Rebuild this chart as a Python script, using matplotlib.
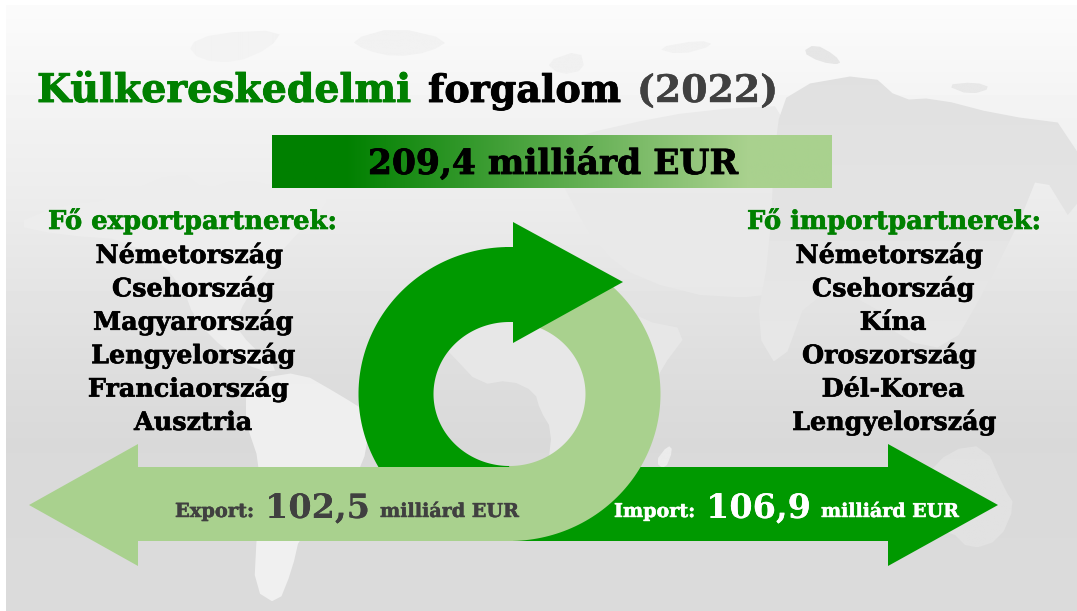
import numpy as np
import matplotlib
matplotlib.use("Agg")
import matplotlib.pyplot as plt
import matplotlib.patheffects as pe
from matplotlib.patches import Polygon
from matplotlib.colors import LinearSegmentedColormap

title_green = "Külkereskedelmi"
title_black = "forgalom"
title_year = "(2022)"
total_value = 209.4
export_value = 102.5
import_value = 106.9
unit = "milliárd EUR"
export_head = "Fő exportpartnerek:"
import_head = "Fő importpartnerek:"
export_partners = ["Németország", "Csehország", "Magyarország", "Lengyelország", "Franciaország", "Ausztria"]
import_partners = ["Németország", "Csehország", "Kína", "Oroszország", "Dél-Korea", "Lengyelország"]
export_centers = [189, 193, 193, 193, 188, 193]
import_centers = [889, 893, 893, 889, 893, 894]

GREEN = "#009900"
LIGHT = "#a9d18e"
TITLE = "#008000"
GREY = "#404040"
FONT = "DejaVu Serif"

fig = plt.figure(figsize=(10.77, 6.11), dpi=100)
ax = fig.add_axes([0, 0, 1, 1])
W, H = 1077, 611


def hu(v):
    return f"{v:.1f}".replace(".", ",")


def smooth(pts, n=1):
    # corner cutting so the coastlines are not so angular
    p = np.array(pts, float)
    for _ in range(n):
        q = np.roll(p, -1, axis=0)
        p = np.c_[0.75 * p + 0.25 * q, 0.25 * p + 0.75 * q].reshape(-1, 2)
    return p


def land(pts, top, bottom):
    # map shapes: grey gradient clipped to a rough coastline
    pts = smooth(pts)
    x0, x1 = pts[:, 0].min(), pts[:, 0].max()
    y0, y1 = pts[:, 1].min(), pts[:, 1].max()
    g = np.linspace(top, bottom, 64).reshape(-1, 1)
    im = ax.imshow(g, extent=[x0, x1, y1, y0], cmap="gray", vmin=0, vmax=255, aspect="auto", zorder=1)
    im.set_clip_path(Polygon(pts, closed=True, transform=ax.transData))


def bold(t, fs, k=0.024):
    # the slide font is heavier than DejaVu Serif Bold
    t.set_path_effects([pe.withStroke(linewidth=fs * k, foreground=t.get_color())])


def put(s, x0, x1, base, color, k=0.024):
    # fit the font so the string fills the same width as in the slide
    t = ax.text(x0, base, s, color=color, family=FONT, weight="bold", ha="left", va="baseline", fontsize=20, zorder=10)
    r = fig.canvas.get_renderer()
    fs = 20 * (x1 - x0) / t.get_window_extent(r).width
    t.set_fontsize(fs)
    bold(t, fs, k)
    return t


# background
ax.imshow(np.full((2, 2), 255), extent=[0, W, H, 0], cmap="gray", vmin=0, vmax=255, aspect="auto", zorder=0)
ys = np.array([5, 60, 130, 200, 280, 360, 440, 611])
gs = np.array([251, 247, 241, 236, 229, 222, 217, 219])
bg = np.interp(np.arange(5, 611), ys, gs).reshape(-1, 1)
ax.imshow(bg, extent=[6, W, H, 5], cmap="gray", vmin=0, vmax=255, aspect="auto", zorder=0.5)

# world map, very rough
land([(187, 45), (215, 33), (283, 30), (270, 48), (235, 63), (200, 60)], 243, 243)
land([(350, 40), (395, 27), (450, 40), (430, 52), (395, 57), (365, 50)], 242, 242)
land([(545, 62), (580, 50), (585, 70), (560, 75)], 241, 241)
land([(655, 48), (700, 40), (715, 45), (680, 55)], 242, 242)
land([(802, 52), (815, 44), (835, 55), (842, 65), (820, 62)], 230, 230)
land([(945, 85), (975, 82), (992, 88), (970, 95)], 232, 232)
# north america
land([(12, 225), (60, 205), (110, 200), (180, 170), (205, 190), (240, 178), (290, 190), (330, 180), (325, 210), (290, 240),
      (265, 275), (245, 300), (235, 325), (250, 345), (280, 370), (260, 372), (225, 350), (195, 320), (180, 280), (130, 240), (60, 235)],
     237, 236)
# south america
land([(240, 405), (262, 378), (300, 372), (340, 395), (372, 415), (362, 470), (335, 505), (300, 535), (292, 570), (278, 605),
      (254, 590), (257, 530), (262, 470)], 238, 240)
# africa, gulf of guinea shows up darker inside the ring
land([(470, 290), (540, 270), (600, 290), (640, 320), (690, 330), (660, 370), (630, 430), (600, 510), (565, 540), (548, 466), (552, 430),
      (540, 410), (535, 392), (510, 380), (480, 385), (450, 353), (432, 335)], 231, 231)
land([(655, 462), (668, 445), (673, 450), (665, 470)], 236, 236)
# eurasia
land([(545, 145), (620, 125), (700, 110), (800, 105), (810, 290), (720, 300), (640, 280), (600, 250), (570, 200)], 234, 232)
land([(775, 130), (790, 87), (870, 73), (900, 100), (935, 98), (1000, 115), (1077, 125), (1077, 230),
      (1040, 170), (1020, 220), (1010, 240), (985, 290), (950, 350), (900, 340), (870, 300), (810, 290), (780, 372), (755, 330),
      (770, 250)], 224, 231)
# australia
land([(922, 480), (950, 450), (985, 445), (1005, 490), (1015, 505), (1000, 540), (970, 550), (950, 530), (925, 535)], 225, 226)

# top banner with gradient
stops = np.linspace(0, 1, 512)
vals = np.clip((stops - 0.13) / (0.85 - 0.13), 0, 1).reshape(1, -1)
ax.imshow(vals, extent=[272, 832, 188, 135], cmap=LinearSegmentedColormap.from_list("g2", [TITLE, LIGHT], N=512),
          vmin=0, vmax=1, aspect="auto", zorder=3)

# ring
cx, cy = 509.5, 394
rx_o, ry_o, rx_i, ry_i = 151, 147, 76, 72


def ring(a0, a1):
    t = np.radians(np.linspace(a0, a1, 120))
    outer = np.c_[cx + rx_o * np.cos(t), cy + ry_o * np.sin(t)]
    inner = np.c_[cx + rx_i * np.cos(t), cy + ry_i * np.sin(t)][::-1]
    return np.r_[outer, inner]


# dark half of the ring and import arrow go under the light shapes
ax.add_patch(Polygon(ring(90, 270), fc=GREEN, ec="none", zorder=4))
ax.add_patch(Polygon([(513, 467), (888, 467), (888, 444), (998, 505), (888, 566), (888, 541), (513, 541)], fc=GREEN, ec="none", zorder=4))
ax.add_patch(Polygon(ring(-90, 90), fc=LIGHT, ec="none", zorder=5))
ax.add_patch(Polygon([(513, 467), (138, 467), (138, 444), (29, 505), (138, 566), (138, 541), (513, 541)], fc=LIGHT, ec="none", zorder=5))
# arrow head sits on top
ax.add_patch(Polygon([(505, 247), (513, 247), (513, 222), (623, 282), (513, 343), (513, 322), (505, 322)], fc=GREEN, ec="none", zorder=6))

# texts
put(title_green, 37, 412, 102, TITLE)
put(title_black, 428, 621, 102, "#000000")
put(title_year, 637, 778, 102, GREY, k=0.012)
put(f"{hu(total_value)} {unit}", 368, 738, 174, "#000000")

put(export_head, 48, 337, 229, TITLE)
put(import_head, 747, 1041, 229, TITLE)

for i, name in enumerate(export_partners):
    t = ax.text(export_centers[i], 263 + i * 33.4, name, color="#000000", family=FONT, weight="bold",
                ha="center", va="baseline", fontsize=18.3, zorder=10)
    bold(t, 18.3)
for i, name in enumerate(import_partners):
    t = ax.text(import_centers[i], 263 + i * 33.4, name, color="#000000", family=FONT, weight="bold",
                ha="center", va="baseline", fontsize=18.3, zorder=10)
    bold(t, 18.3)

put("Export:", 175, 254, 517, GREY)
put(hu(export_value), 265, 370, 518, GREY, k=0)
put(unit, 380, 519, 517, GREY)
put("Import:", 614, 695, 517, "#ffffff")
put(hu(import_value), 706, 811, 518, "#ffffff", k=0)
put(unit, 821, 959, 517, "#ffffff")

ax.set_xlim(0, W)
ax.set_ylim(H, 0)
ax.axis("off")
fig.savefig("out.png", dpi=100)
